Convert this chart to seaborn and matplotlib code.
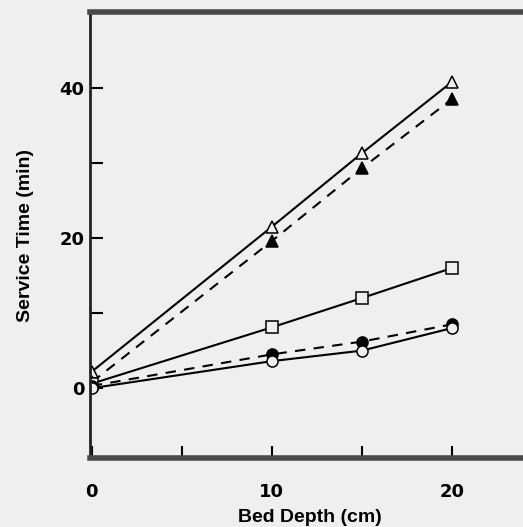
import matplotlib
matplotlib.use("Agg")
import matplotlib.pyplot as plt
import seaborn as sns

# valeurs
depth = [0, 10, 15, 20]
open_triangle = [2.2, 21.5, 31.3, 40.8]
filled_triangle = [0.8, 19.6, 29.3, 38.5]
open_square = [0.6, 8.1, 12.0, 16.0]
filled_circle = [0.3, 4.5, 6.2, 8.5]
open_circle = [0.0, 3.6, 5.0, 8.0]

x_ticks = [0, 5, 10, 15, 20]
x_labels = ["0", "", "10", "", "20"]
y_ticks = [0, 10, 20, 30, 40]
y_labels = ["0", "", "20", "", "40"]

bg = "#efefef"
sns.set_style("ticks")
plt.rcParams["font.family"] = ["DejaVu Sans"]
plt.rcParams["text.color"] = "black"
plt.rcParams["xtick.color"] = "black"
plt.rcParams["ytick.color"] = "black"
plt.rcParams["axes.labelcolor"] = "black"

fig = plt.figure(figsize=(5.23, 5.27), dpi=100, facecolor=bg)
ax = fig.add_axes([0.172, 0.131, 0.84, 0.846], facecolor=bg)

series = [
    (open_triangle, "^", bg, "-"),
    (filled_triangle, "^", "black", (0, (5, 4))),
    (open_square, "s", bg, "-"),
    (filled_circle, "o", "black", (0, (5, 4))),
    (open_circle, "o", bg, "-"),
]
for vals, mk, face, ls in series:
    sns.lineplot(x=depth, y=vals, ax=ax, color="black", linewidth=1.5,
                 linestyle=ls, marker=mk, markersize=8,
                 markerfacecolor=face, markeredgecolor="black",
                 markeredgewidth=1.1)

ax.set_xlim(-0.1, 24.3)
ax.set_ylim(-9.3, 50.1)
ax.set_xticks(x_ticks)
ax.set_xticklabels(x_labels, fontsize=13, fontweight="bold")
ax.set_yticks(y_ticks)
ax.set_yticklabels(y_labels, fontsize=13, fontweight="bold")
ax.tick_params(axis="both", direction="in", length=9, width=1.5, color="black")
ax.tick_params(axis="x", pad=18)
ax.tick_params(axis="y", pad=4)

for side in ["top", "bottom"]:
    ax.spines[side].set_linewidth(4)
    ax.spines[side].set_color("#4a4a4a")
ax.spines["left"].set_linewidth(2)
ax.spines["left"].set_color("#222222")
ax.spines["right"].set_visible(False)

ax.set_xlabel("Bed Depth (cm)", fontsize=14, fontweight="bold",
              family="Liberation Sans")
ax.xaxis.set_label_coords(0.5, -0.115)
ax.set_ylabel("Service Time (min)", fontsize=14, fontweight="bold",
              family="Liberation Sans", labelpad=18)

fig.savefig("out.png", dpi=100, facecolor=bg)
